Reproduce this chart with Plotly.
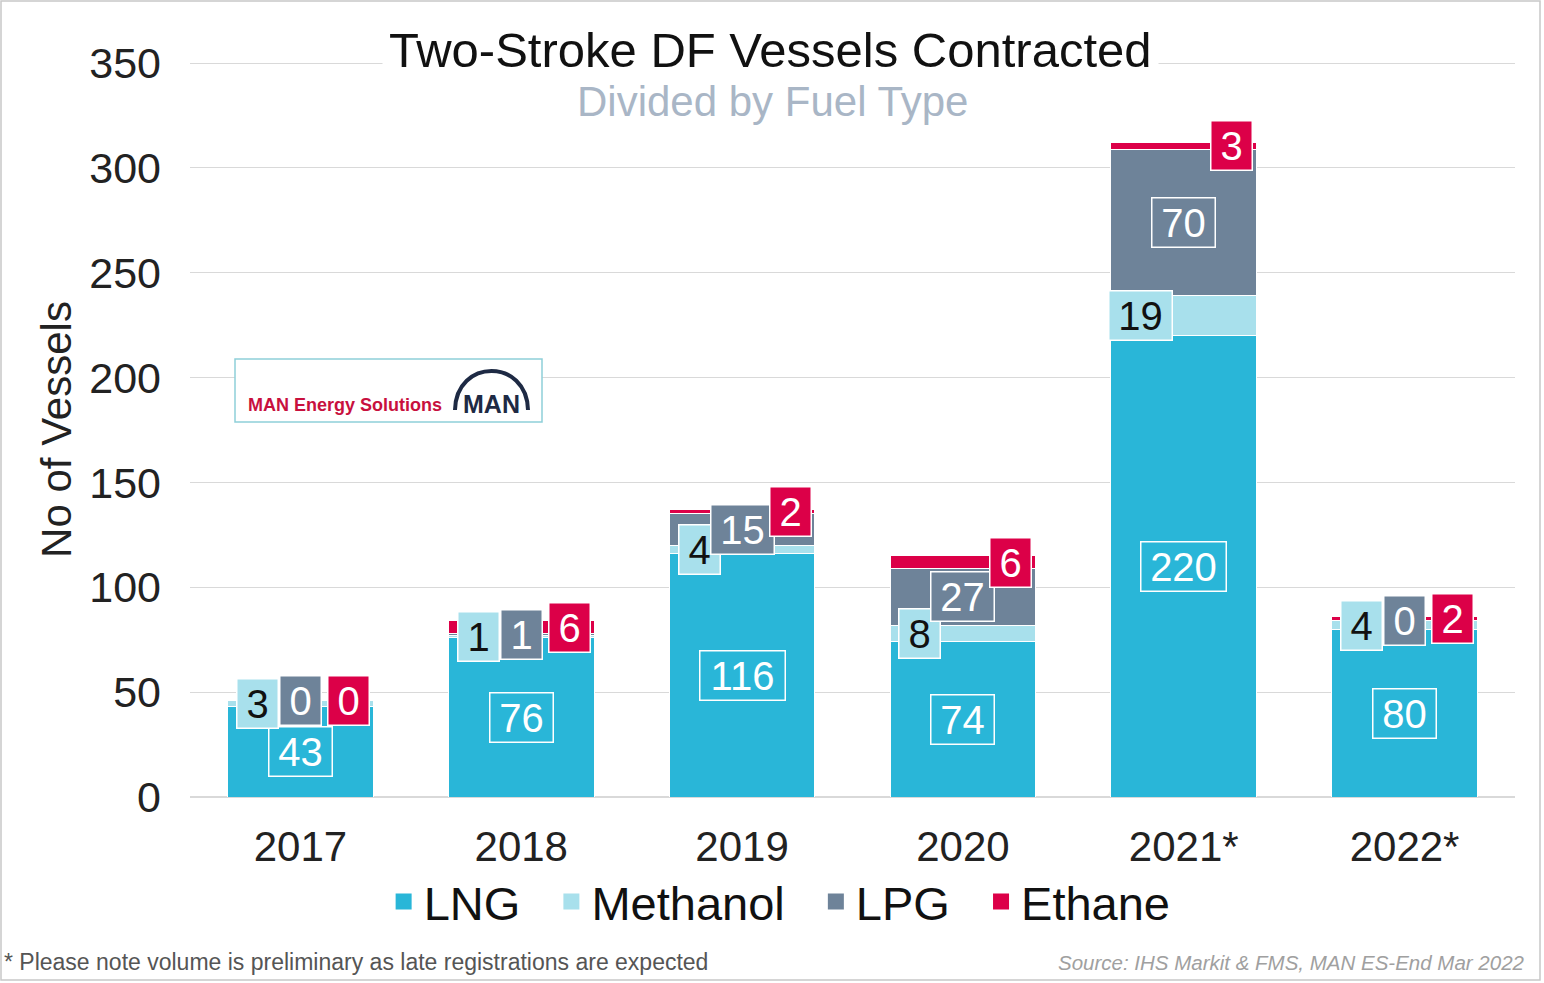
import plotly.graph_objects as go

# data
years = ['2017', '2018', '2019', '2020', '2021*', '2022*']
lng = [43, 76, 116, 74, 220, 80]
methanol = [3, 1, 4, 8, 19, 4]
lpg = [0, 1, 15, 27, 70, 0]
ethane = [0, 6, 2, 6, 3, 2]
y_ticks = [0, 50, 100, 150, 200, 250, 300, 350]

W, H = 1544, 983
L, R, T, B = 190, 29, 62, 186
PW, PH = W - L - R, H - T - B


def px(x):
    return (x - L) / PW


def py(y):
    return (H - B - y) / PH


series = [
    ('LNG', lng, '#29B6D8', 'white', 0),
    ('Methanol', methanol, '#A8E0EC', '#111111', -43),
    ('LPG', lpg, '#6E8399', 'white', 0),
    ('Ethane', ethane, '#DC0048', 'white', 48),
]

fig = go.Figure()
for name, vals, color, _, _ in series:
    fig.add_trace(go.Bar(x=years, y=vals, name=name, marker=dict(color=color, line=dict(color='white', width=1)),
                         showlegend=False, hoverinfo='skip'))
# legend entries (square markers), padded names to widen the gaps
for k, (name, vals, color, _, _) in enumerate(series):
    pad = '\u00a0\u00a0' if k < len(series) - 1 else ''
    fig.add_trace(go.Scatter(x=[years[0]], y=[None], mode='markers', name=name + pad,
                             marker=dict(symbol='square', size=16, color=color)))

# value labels in boxes (x given as category index)
base = [0] * len(years)
for name, vals, color, txtcol, shift in series:
    for i, v in enumerate(vals):
        mid = base[i] + v / 2
        fig.add_annotation(x=i, y=mid, text=str(v), showarrow=False, xshift=shift,
                           xanchor='center', yanchor='middle',
                           font=dict(size=40, color=txtcol), bgcolor=color,
                           bordercolor='white', borderwidth=1.5, borderpad=2,
                           width=22 * len(str(v)) + 14)
        base[i] += v


def note(x, y, text, size, color, xanchor='center', **kw):
    fig.add_annotation(x=px(x), y=py(y), xref='paper', yref='paper', text=text, showarrow=False,
                       xanchor=xanchor, yanchor='middle', font=dict(size=size, color=color), **kw)


note(770, 50, 'Two-Stroke DF Vessels Contracted', 49, '#111111', bgcolor='white', borderpad=6)
note(772, 102, 'Divided by Fuel Type', 42, '#A9B6C6')

# logo box
fig.add_shape(type='rect', xref='paper', yref='paper', x0=px(235), x1=px(542), y0=py(422), y1=py(359),
              line=dict(color='#8ECFD9', width=1.5), fillcolor='white')
note(246, 405, '<b>MAN Energy Solutions</b>', 18, '#C8103E', xanchor='left')
note(491, 404, '<b>MAN</b>', 25, '#1E2A44')
fig.add_shape(type='path', xref='paper', yref='paper',
              path=f'M {px(455)},{py(410)} C {px(456)},{py(358)} {px(527)},{py(358)} {px(528)},{py(410)}',
              line=dict(color='#1E2A44', width=4))

# footer
note(2, 962, '* Please note volume is preliminary as late registrations are expected', 23, '#555555',
     xanchor='left')
note(1527, 963, '<i>Source: IHS Markit & FMS, MAN ES-End Mar 2022</i>', 20.5, '#A0A0A0', xanchor='right')

# outer frame
fig.add_shape(type='rect', xref='paper', yref='paper', x0=px(1), x1=px(1540), y0=py(980), y1=py(1),
              line=dict(color='#C8C8C8', width=1.5), layer='below')

fig.update_layout(
    width=W, height=H, barmode='stack', bargap=0.34,
    margin=dict(l=L, r=R, t=T, b=B),
    plot_bgcolor='white', paper_bgcolor='white',
    font=dict(family='Liberation Sans, Arial, sans-serif', size=40, color='#222222'),
    xaxis=dict(type='category', range=[-0.5, 5.5], showgrid=False, showline=False,
               tickfont=dict(size=42), ticklabelstandoff=21),
    yaxis=dict(range=[0, 350.5], tickvals=y_ticks, showgrid=True, gridcolor='#D9D9D9', gridwidth=1,
               zeroline=True, zerolinecolor='#D9D9D9', tickfont=dict(size=43), ticklabelstandoff=28,
               title=dict(text='No of Vessels', font=dict(size=42), standoff=4)),
    legend=dict(orientation='h', x=0.445, xanchor='center', y=py(902), yanchor='middle',
                traceorder='normal', font=dict(size=47, color='#111111'), itemwidth=30, tracegroupgap=0),
)

fig.write_html("out.html", config={'displayModeBar': False},
               post_script="document.body.style.margin='0';")
